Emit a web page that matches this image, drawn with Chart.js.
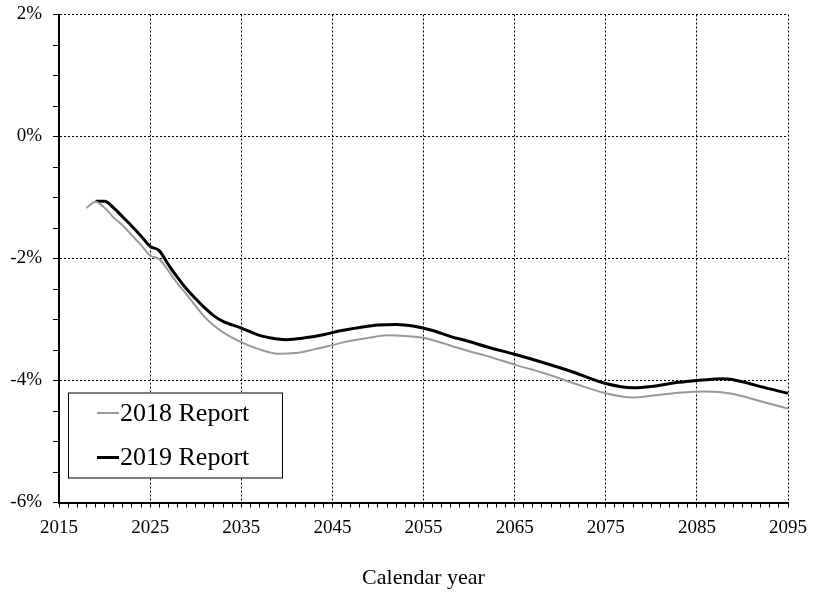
<!DOCTYPE html>
<html>
<head>
<meta charset="utf-8">
<script src="https://cdn.jsdelivr.net/npm/chart.js@4.4.0/dist/chart.umd.min.js"></script>
<style>
  html, body { margin: 0; padding: 0; background: #fff; }
  canvas { display: block; }
</style>
</head>
<body>
<canvas id="chart" width="813" height="594"></canvas>
<script>
// 2018 Report (gray line)
const years2018 = [2018, 2019, 2020, 2021, 2022, 2023, 2024, 2025, 2026, 2027, 2028, 2029, 2030,
  2031, 2032, 2033, 2035, 2037, 2039, 2041, 2043, 2045, 2047, 2049, 2051, 2053, 2055, 2058, 2060,
  2062, 2065, 2068, 2071, 2075, 2078, 2080, 2083, 2086, 2089, 2091, 2093, 2095];
const values2018 = [-1.17, -1.07, -1.17, -1.33, -1.46, -1.62, -1.78, -1.95, -2.01, -2.20, -2.41, -2.59, -2.78,
  -2.96, -3.10, -3.21, -3.37, -3.49, -3.56, -3.55, -3.49, -3.42, -3.35, -3.30, -3.26, -3.27, -3.30, -3.43, -3.52,
  -3.60, -3.74, -3.87, -4.02, -4.21, -4.28, -4.25, -4.20, -4.18, -4.22, -4.30, -4.38, -4.46];

// 2019 Report (black line)
const years2019 = [2019, 2020, 2021, 2022, 2023, 2024, 2025, 2026, 2027, 2028, 2029, 2030,
  2031, 2032, 2033, 2035, 2037, 2039, 2040, 2042, 2044, 2046, 2048, 2050, 2052, 2054, 2056, 2058, 2060,
  2062, 2065, 2068, 2071, 2075, 2078, 2080, 2083, 2085, 2088, 2090, 2092, 2095];
const values2019 = [-1.06, -1.06, -1.17, -1.32, -1.47, -1.63, -1.80, -1.87, -2.10, -2.31, -2.50, -2.66,
  -2.81, -2.94, -3.03, -3.14, -3.26, -3.32, -3.33, -3.30, -3.25, -3.18, -3.13, -3.09, -3.08, -3.11, -3.18, -3.28, -3.36,
  -3.45, -3.57, -3.70, -3.84, -4.05, -4.12, -4.10, -4.03, -4.00, -3.97, -4.02, -4.10, -4.21];

const seriesLabels = ['2018 Report', '2019 Report'];
const xTickLabels = [2015, 2025, 2035, 2045, 2055, 2065, 2075, 2085, 2095];
const yTickLabels = [-6, -4, -2, 0, 2];

const toPoints = (xs, ys) => xs.map((x, i) => ({ x: x, y: ys[i] }));

const serif = 'Liberation Serif';

// legend drawn inside the plot, boxed
const boxLegend = {
  id: 'boxLegend',
  afterDatasetsDraw(chart) {
    const ctx = chart.ctx, a = chart.chartArea;
    const x = a.left + 9, y = a.bottom - 110, w = 214, h = 85;
    ctx.save();
    ctx.fillStyle = '#fff';
    ctx.fillRect(x, y, w, h);
    ctx.strokeStyle = '#000';
    ctx.lineWidth = 1;
    ctx.strokeRect(x + 0.5, y + 0.5, w, h);
    ctx.font = '26px "' + serif + '"';
    ctx.textBaseline = 'middle';
    chart.data.datasets.forEach((ds, i) => {
      const cy = y + 20.5 + i * 44.5;
      ctx.strokeStyle = ds.borderColor;
      ctx.lineWidth = ds.borderWidth;
      ctx.beginPath();
      ctx.moveTo(x + 29, cy);
      ctx.lineTo(x + 51, cy);
      ctx.stroke();
      ctx.fillStyle = '#000';
      ctx.fillText(ds.label, x + 52, cy + 1);
    });
    ctx.restore();
  }
};

const config = {
  type: 'line',
  data: {
    datasets: [
      {
        label: seriesLabels[0],
        data: toPoints(years2018, values2018),
        borderColor: '#999999',
        borderWidth: 2,
        pointRadius: 0,
        cubicInterpolationMode: 'monotone',
        fill: false
      },
      {
        label: seriesLabels[1],
        data: toPoints(years2019, values2019),
        borderColor: '#000000',
        borderWidth: 3,
        pointRadius: 0,
        cubicInterpolationMode: 'monotone',
        fill: false
      }
    ]
  },
  options: {
    responsive: false,
    animation: false,
    devicePixelRatio: 1,
    layout: { padding: { left: 0, right: 25, top: 14.5, bottom: 0 } },
    plugins: {
      legend: { display: false },
      tooltip: { enabled: false }
    },
    scales: {
      x: {
        type: 'linear',
        min: 2015,
        max: 2095,
        ticks: {
          stepSize: 1,
          autoSkip: false,
          maxRotation: 0,
          minRotation: 0,
          padding: 9,
          color: '#000',
          font: { family: serif, size: 19 },
          callback: v => xTickLabels.includes(v) ? String(v) : ''
        },
        grid: {
          color: c => (c.tick && xTickLabels.includes(c.tick.value)) ? '#000' : 'rgba(0,0,0,0)',
          lineWidth: 1,
          tickLength: 5,
          tickColor: '#000',
          tickWidth: 1
        },
        border: { color: '#000', width: 2, dash: [2, 2] },
        title: {
          display: true,
          text: 'Calendar year',
          color: '#000',
          font: { family: serif, size: 22 },
          padding: { top: 0, bottom: 3 }
        },
        afterFit: s => { s.height = 91.5; s.paddingLeft = 0; s.paddingRight = 0; }
      },
      y: {
        min: -6,
        max: 2,
        ticks: {
          stepSize: 0.5,
          autoSkip: false,
          padding: 11,
          color: '#000',
          font: { family: serif, size: 19 },
          callback: v => yTickLabels.includes(v) ? v + '%' : ''
        },
        grid: {
          color: c => (c.tick && yTickLabels.includes(c.tick.value)) ? '#000' : 'rgba(0,0,0,0)',
          lineWidth: 1,
          tickLength: 6,
          tickColor: '#000',
          tickWidth: 1
        },
        border: { color: '#000', width: 2, dash: [2, 2] },
        afterFit: s => { s.width = 59; s.paddingTop = 0; s.paddingBottom = 0; }
      }
    }
  },
  plugins: [boxLegend]
};

window.onload = function() {
  const ctx = document.getElementById('chart').getContext('2d');
  new Chart(ctx, config);
};
</script>
</body>
</html>
